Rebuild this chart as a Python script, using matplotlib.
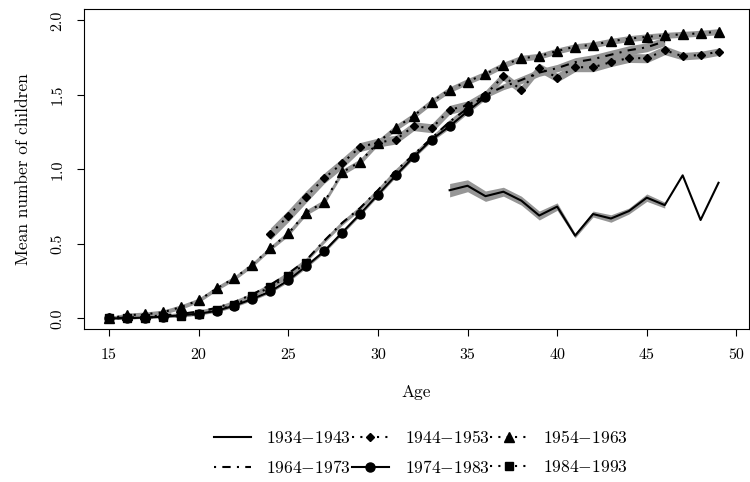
import matplotlib
matplotlib.use("Agg")
import matplotlib.pyplot as plt
import numpy as np

plt.rcParams['font.family'] = ['cmr10', 'DejaVu Serif']
plt.rcParams['mathtext.fontset'] = 'cm'
plt.rcParams['axes.formatter.use_mathtext'] = True

# ages per cohort and mean number of children, with band half-widths
ages_1934 = list(range(34, 50))
mean_1934 = [0.86, 0.89, 0.82, 0.85, 0.79, 0.69, 0.75, 0.555, 0.70, 0.67, 0.72, 0.81, 0.76, 0.96, 0.66, 0.91]
band_1934 = [0.045, 0.04, 0.035, 0.03, 0.03, 0.03, 0.025, 0.015, 0.02, 0.025, 0.02, 0.025, 0.02, np.nan, np.nan, np.nan]

ages_1944 = list(range(24, 50))
mean_1944 = [0.566, 0.687, 0.817, 0.94, 1.04, 1.15, 1.18, 1.20, 1.29, 1.276, 1.40, 1.43, 1.50,
             1.627, 1.533, 1.683, 1.616, 1.686, 1.686, 1.72, 1.748, 1.746, 1.80, 1.76, 1.768, 1.79]
band_1944 = [0.04, 0.04, 0.04, 0.035, 0.035, 0.03, 0.03, 0.03, 0.03, 0.03, 0.03, 0.03, 0.03,
             0.03, 0.03, 0.03, 0.03, 0.03, 0.03, 0.03, 0.03, 0.03, 0.03, 0.025, 0.025, 0.025]

ages_1954 = list(range(15, 50))
mean_1954 = [0.0, 0.02, 0.027, 0.04, 0.075, 0.12, 0.20, 0.27, 0.36, 0.47, 0.57, 0.71, 0.78, 0.98,
             1.05, 1.18, 1.28, 1.36, 1.455, 1.535, 1.59, 1.64, 1.70, 1.746, 1.76, 1.795, 1.824,
             1.837, 1.86, 1.878, 1.89, 1.90, 1.907, 1.914, 1.925]
band_1954 = [0.01, 0.015, 0.015, 0.015, 0.015, 0.015, 0.015, 0.015, 0.015, 0.015, 0.018, 0.018,
             0.018, 0.02, 0.02, 0.02, 0.02, 0.02, 0.02, 0.02, 0.02, 0.02, 0.02, 0.02, 0.02, 0.02,
             0.02, 0.02, 0.02, 0.02, 0.02, 0.02, 0.02, 0.02, 0.02]

ages_1964 = list(range(15, 47))
mean_1964 = [0.0, 0.005, 0.01, 0.02, 0.03, 0.045, 0.07, 0.11, 0.16, 0.225, 0.30, 0.39, 0.52, 0.64,
             0.74, 0.86, 0.99, 1.10, 1.21, 1.32, 1.41, 1.50, 1.555, 1.60, 1.65, 1.68, 1.72, 1.74,
             1.77, 1.80, 1.82, 1.86]
band_1964 = [0.005, 0.005, 0.005, 0.008, 0.008, 0.01, 0.01, 0.012, 0.012, 0.012, 0.015, 0.015,
             0.015, 0.015, 0.015, 0.015, 0.015, 0.015, 0.015, 0.015, 0.02, 0.02, 0.02, 0.025, 0.025,
             0.025, 0.03, 0.03, 0.03, 0.03, 0.03, 0.03]

ages_1974 = list(range(15, 37))
mean_1974 = [0.0, 0.0, 0.005, 0.01, 0.02, 0.03, 0.05, 0.085, 0.13, 0.18, 0.255, 0.35, 0.45, 0.575,
             0.70, 0.83, 0.96, 1.085, 1.20, 1.29, 1.39, 1.485]
band_1974 = [0.005, 0.005, 0.005, 0.005, 0.008, 0.008, 0.01, 0.01, 0.01, 0.01, 0.012, 0.012,
             0.012, 0.012, 0.012, 0.012, 0.012, 0.012, 0.012, 0.015, 0.015, 0.015]

ages_1984 = list(range(15, 27))
mean_1984 = [0.0, 0.0, 0.005, 0.01, 0.015, 0.03, 0.055, 0.09, 0.15, 0.21, 0.285, 0.37]
band_1984 = [0.005, 0.005, 0.005, 0.005, 0.008, 0.008, 0.01, 0.01, 0.012, 0.012, 0.015, 0.015]

labels = ['1934', '1944', '1954', '1964', '1974', '1984']
ends = ['1943', '1953', '1963', '1973', '1983', '1993']

series = [
    (ages_1934, mean_1934, band_1934, '-', None, 0),
    (ages_1944, mean_1944, band_1944, (0, (1, 3)), 'D', 4.5),
    (ages_1954, mean_1954, band_1954, (0, (1, 3)), '^', 7),
    (ages_1964, mean_1964, band_1964, (0, (1, 3, 4, 3)), None, 0),
    (ages_1974, mean_1974, band_1974, '-', 'o', 6.5),
    (ages_1984, mean_1984, band_1984, (0, (1, 3)), 's', 6),
]

fig = plt.figure(figsize=(7.5, 4.82), dpi=100)
ax = fig.add_axes([84 / 750, 1 - 329.3 / 482, 665 / 750, 320 / 482])

for x, m, b, ls, mk, ms in series:
    m = np.array(m)
    b = np.array(b, dtype=float)
    ax.fill_between(x, m - b, m + b, color='#969696', lw=0, zorder=1)

handles = []
for (x, m, b, ls, mk, ms), a, e in zip(series, labels, ends):
    h, = ax.plot(x, m, color='black', linestyle=ls, lw=1.5, marker=mk, markersize=ms,
                 zorder=3, label=rf'${a}{{-}}{e}$')
    handles.append(h)

ax.set_xlim(13.606, 50.70)
ax.set_ylim(-0.074, 2.075)
ax.set_xticks([15, 20, 25, 30, 35, 40, 45, 50])
ax.set_xticklabels(['15', '20', '25', '30', '35', '40', '45', '50'])
ax.set_yticks([0.0, 0.5, 1.0, 1.5, 2.0])
ax.set_yticklabels(['0.0', '0.5', '1.0', '1.5', '2.0'], rotation=90, va='center')
ax.tick_params(direction='out', length=5, width=0.8, pad=9, labelsize=11.5)
for s in ax.spines.values():
    s.set_linewidth(0.8)

ax.set_xlabel('Age', fontsize=12.5, labelpad=16)
ax.set_ylabel('Mean number of children', fontsize=12.5, labelpad=14)

order = [0, 3, 1, 4, 2, 5]
fig.legend([handles[i] for i in order], [handles[i].get_label() for i in order],
           ncol=3, loc='center', bbox_to_anchor=(0.561, 0.061), frameon=False,
           fontsize=12.6, handlelength=2.1, handletextpad=0.9, columnspacing=0.05,
           numpoints=1, labelspacing=0.75)

fig.savefig('out.png', dpi=100)
